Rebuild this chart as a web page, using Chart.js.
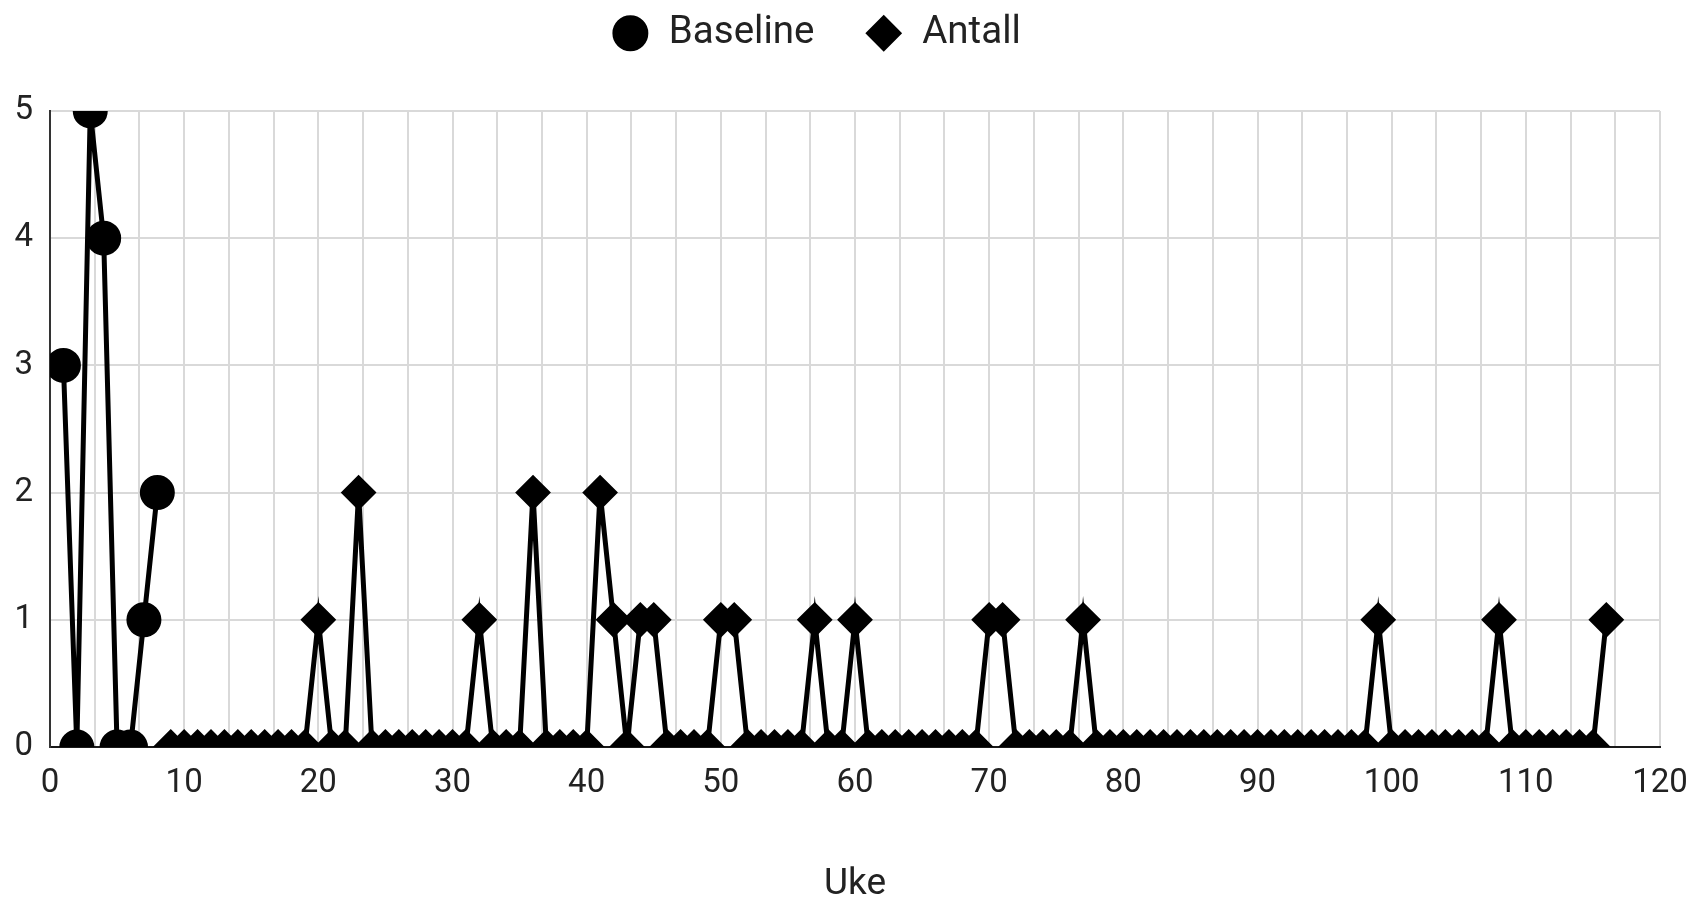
<!DOCTYPE html>
<html>
<head>
<meta charset="utf-8">
<script src="https://cdn.jsdelivr.net/npm/chart.js@4/dist/chart.umd.min.js"></script>
<style>
  html, body { margin: 0; padding: 0; background: #ffffff; }
  canvas { display: block; }
</style>
</head>
<body>
<canvas id="chart" width="1700" height="898"></canvas>
<script>
// ---- data ----
const baselineWeeks = [1, 2, 3, 4, 5, 6, 7, 8];
const baselineValues = [3, 0, 5, 4, 0, 0, 1, 2];

const antallWeeks = [
  9, 10, 11, 12, 13, 14, 15, 16, 17, 18, 19, 20, 21, 22, 23, 24, 25, 26, 27, 28,
  29, 30, 31, 32, 33, 34, 35, 36, 37, 38, 39, 40, 41, 42, 43, 44, 45, 46, 47, 48,
  49, 50, 51, 52, 53, 54, 55, 56, 57, 58, 59, 60, 61, 62, 63, 64, 65, 66, 67, 68,
  69, 70, 71, 72, 73, 74, 75, 76, 77, 78, 79, 80, 81, 82, 83, 84, 85, 86, 87, 88,
  89, 90, 91, 92, 93, 94, 95, 96, 97, 98, 99, 100, 101, 102, 103, 104, 105, 106, 107, 108,
  109, 110, 111, 112, 113, 114, 115, 116
];
const antallValues = [
  0, 0, 0, 0, 0, 0, 0, 0, 0, 0, 0, 1, 0, 0, 2, 0, 0, 0, 0, 0,
  0, 0, 0, 1, 0, 0, 0, 2, 0, 0, 0, 0, 2, 1, 0, 1, 1, 0, 0, 0,
  0, 1, 1, 0, 0, 0, 0, 0, 1, 0, 0, 1, 0, 0, 0, 0, 0, 0, 0, 0,
  0, 1, 1, 0, 0, 0, 0, 0, 1, 0, 0, 0, 0, 0, 0, 0, 0, 0, 0, 0,
  0, 0, 0, 0, 0, 0, 0, 0, 0, 0, 1, 0, 0, 0, 0, 0, 0, 0, 0, 1,
  0, 0, 0, 0, 0, 0, 0, 1
];

const seriesLabels = ['Baseline', 'Antall'];
const xAxisTitle = 'Uke';
const xMajorTicks = [0, 10, 20, 30, 40, 50, 60, 70, 80, 90, 100, 110, 120];
const xMinorDivisions = 3;
const yTicks = [0, 1, 2, 3, 4, 5];

// ---- helpers ----
function toPoints(xs, ys) { return xs.map((x, i) => ({ x: x, y: ys[i] })); }
const xGridValues = [];
for (let i = 0; i < xMajorTicks.length; i++) {
  xGridValues.push(xMajorTicks[i]);
  if (i < xMajorTicks.length - 1) {
    const a = xMajorTicks[i], b = xMajorTicks[i + 1];
    for (let k = 1; k < xMinorDivisions; k++) xGridValues.push(a + (b - a) * k / xMinorDivisions);
  }
}
const majorSet = new Set(xMajorTicks);

// ---- styles ----
const FONT = 'Roboto, "Liberation Sans", Arial, sans-serif';
const TEXT = '#222222';
const GRID = '#d9d9d9';
const LEGEND_EXTRA = 12.5;
const LEGEND_DX = -14;
const LEGEND_DY = -36;

const legendPlacement = {
  id: 'legendPlacement',
  beforeLayout(chart) {
    const lg = chart.legend;
    if (lg && !lg.__wrapped) {
      const fit = lg.fit;
      lg.fit = function () { fit.call(this); this.height += LEGEND_EXTRA; };
      lg.__wrapped = true;
    }
  },
  afterLayout(chart) {
    const lg = chart.legend;
    if (!lg) return;
    lg.left += LEGEND_DX; lg.right += LEGEND_DX;
    lg.top += LEGEND_DY; lg.bottom += LEGEND_DY;
  }
};

const pointCommon = {
  borderColor: '#000000',
  backgroundColor: '#000000',
  pointBackgroundColor: '#000000',
  pointBorderColor: '#000000',
  pointBorderWidth: 2,
  pointRadius: 16.5,
  pointHoverRadius: 16.5,
  borderWidth: 5,
  tension: 0,
  fill: false,
  clip: 0
};

new Chart(document.getElementById('chart').getContext('2d'), {
  type: 'line',
  data: {
    datasets: [
      Object.assign({ label: seriesLabels[0], data: toPoints(baselineWeeks, baselineValues), pointStyle: 'circle' }, pointCommon),
      Object.assign({ label: seriesLabels[1], data: toPoints(antallWeeks, antallValues), pointStyle: 'rectRot' }, pointCommon)
    ]
  },
  options: {
    responsive: false,
    animation: false,
    devicePixelRatio: 1,
    layout: { padding: { top: 0, right: 40, bottom: -9, left: 0 } },
    scales: {
      x: {
        type: 'linear',
        min: 0,
        max: 120,
        afterBuildTicks(scale) { scale.ticks = xGridValues.map(v => ({ value: v })); },
        afterFit(scale) { scale.paddingLeft = 0; scale.paddingRight = 0; },
        ticks: {
          autoSkip: false,
          maxRotation: 0,
          padding: 17,
          color: TEXT,
          font: { family: FONT, size: 33 },
          callback: (v) => majorSet.has(v) ? String(v) : ''
        },
        grid: { color: GRID, lineWidth: 2, drawTicks: false },
        border: { color: '#1a1a1a', width: 2 },
        title: {
          display: true,
          text: xAxisTitle,
          color: TEXT,
          font: { family: FONT, size: 37 },
          padding: { top: 42, bottom: 0 }
        }
      },
      y: {
        min: 0,
        max: 5,
        afterBuildTicks(scale) { scale.ticks = yTicks.map(v => ({ value: v })); },
        afterFit(scale) { scale.width = 50; },
        ticks: {
          padding: 17,
          color: TEXT,
          font: { family: FONT, size: 33 }
        },
        grid: { color: GRID, lineWidth: 2, drawTicks: false },
        border: { color: '#333333', width: 2 }
      }
    },
    plugins: {
      legend: {
        position: 'top',
        labels: {
          usePointStyle: true,
          boxWidth: 38.5,
          boxHeight: 24,
          padding: 50,
          color: TEXT,
          font: { family: FONT, size: 38.5 }
        }
      },
      tooltip: { enabled: false }
    }
  },
  plugins: [legendPlacement]
});
</script>
</body>
</html>
